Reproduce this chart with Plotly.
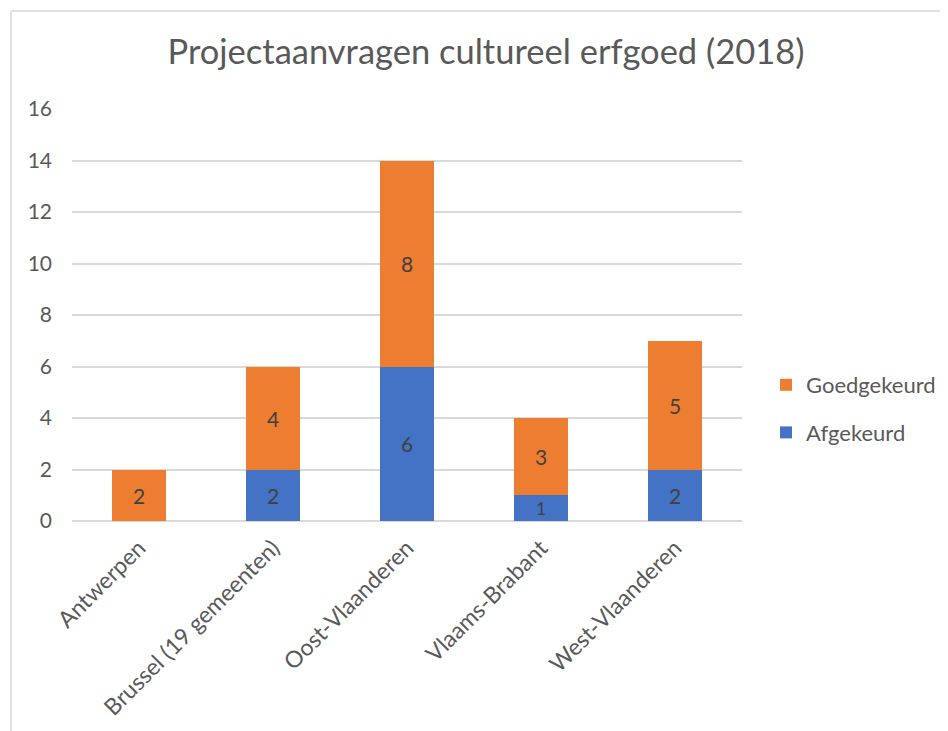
import plotly.graph_objects as go

categories = ["Antwerpen", "Brussel (19 gemeenten)", "Oost-Vlaanderen", "Vlaams-Brabant", "West-Vlaanderen"]
afgekeurd = [0, 2, 6, 1, 2]
goedgekeurd = [2, 4, 8, 3, 5]
y_ticks = [0, 2, 4, 6, 8, 10, 12, 14, 16]

OFF = 8  # default page margin of the browser
W, H = 948 - OFF, 731 - OFF
L, R, T, B = 72 - OFF, 742 - OFF, 109 - OFF, 521 - OFF
FONT = "Lato, 'Open Sans', sans-serif"

def lbl(vals):
    return [str(v) if v else "" for v in vals]

def px_x(px):
    return (px - OFF - L) / (R - L)

def px_y(py):
    return (B - (py - OFF)) / (B - T)

fig = go.Figure()
fig.add_trace(go.Bar(
    name="Afgekeurd", x=categories, y=afgekeurd, marker_color="#4472C4",
    text=lbl(afgekeurd), textposition="inside", insidetextanchor="middle", textangle=0,
    textfont=dict(size=21, color="#404040", family=FONT), legendrank=2,
    marker_line_width=0, legendgroup="a",
))
fig.add_trace(go.Bar(
    name="Goedgekeurd", x=categories, y=goedgekeurd, marker_color="#ED7D31",
    text=lbl(goedgekeurd), textposition="inside", insidetextanchor="middle", textangle=0,
    textfont=dict(size=21, color="#404040", family=FONT), legendrank=1,
    marker_line_width=0, legendgroup="g",
))

fig.update_layout(
    width=W, height=H,
    barmode="stack", bargap=0.6,
    paper_bgcolor="white", plot_bgcolor="white",
    margin=dict(l=L, r=W - R, t=T, b=H - B, autoexpand=False),
    title=dict(text="Projectaanvragen cultureel erfgoed (2018)", x=(486 - OFF) / W, xanchor="center",
               y=1 - (52 - OFF) / H, yanchor="middle",
               font=dict(size=34.5, color="#595959", family=FONT)),
    font=dict(family=FONT, color="#595959", size=21),
    xaxis=dict(tickangle=-45, showgrid=False, showline=False, ticks="",
               tickfont=dict(size=23, color="#595959"), ticklabelstandoff=8),
    yaxis=dict(range=[0, 16], tickvals=y_ticks, showgrid=True, gridcolor="#D9D9D9",
               gridwidth=1.5, zeroline=True, zerolinecolor="#D9D9D9", zerolinewidth=1.5,
               ticks="", tickfont=dict(size=21, color="#595959"), ticklabelstandoff=19),
    legend=dict(x=px_x(766), y=px_y(409), xanchor="left", yanchor="middle",
                tracegroupgap=16, font=dict(size=22, color="#595959"), itemwidth=30),
    showlegend=True,
    shapes=[
        dict(type="line", xref="paper", yref="paper", x0=px_x(11), x1=px_x(11),
             y0=px_y(11), y1=px_y(760), line=dict(color="#D9D9D9", width=1.5)),
        dict(type="line", xref="paper", yref="paper", x0=px_x(11), x1=px_x(980),
             y0=px_y(11), y1=px_y(11), line=dict(color="#D9D9D9", width=1.5)),
    ],
)

fig.write_html("out.html")
